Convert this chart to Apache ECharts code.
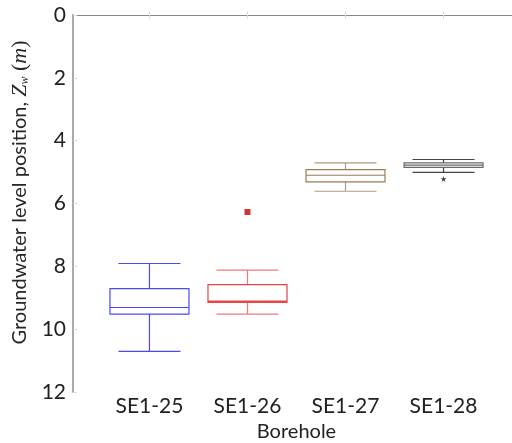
<!DOCTYPE html>
<html>
<head>
<meta charset="utf-8">
<script src="https://cdn.jsdelivr.net/npm/echarts@6/dist/echarts.min.js"></script>
<style>
  html, body { margin: 0; padding: 0; background: #fff; }
  #main { width: 512px; height: 443px; }
</style>
</head>
<body>
<div id="main"></div>
<script>
// boreholes and their depth-to-water statistics (m)
var boreholes = ['SE1-25', 'SE1-26', 'SE1-27', 'SE1-28'];
var whiskerLow = [10.71, 9.52, 5.61, 5.01];   // lower whisker (deeper)
var q3 = [9.52, 9.15, 5.31, 4.85];
var median = [9.31, 9.11, 5.10, 4.78];
var q1 = [8.71, 8.58, 4.92, 4.71];
var whiskerHigh = [7.91, 8.12, 4.71, 4.60];   // upper whisker (shallower)
var outliers26 = [[2, 6.27]];
var outliers28 = [[4, 5.22]];
var yTicks = [0, 2, 4, 6, 8, 10, 12];

var boxColors = ['#4a4af2', '#e64646', '#9c7b5c', '#6a6a6a'];
var capColors = ['#4a4af2', '#ee7878', '#b09a85', '#444444'];

var whiskerData = [], boxData = [];
boreholes.forEach(function (b, i) {
  var x = i + 1;
  whiskerData.push({
    value: [x, whiskerHigh[i], median[i], median[i], median[i], whiskerLow[i]],
    itemStyle: { borderColor: capColors[i] }
  });
  boxData.push({
    value: [x, q1[i], q1[i], median[i], q3[i], q3[i]],
    itemStyle: { borderColor: boxColors[i], color: '#fff' }
  });
});

var chart = echarts.init(document.getElementById('main'));
var tickValues = boreholes.map(function (b, i) { return i + 1; });

option = {
  animation: false,
  grid: { left: 73, right: -8, top: 15, bottom: 51, outerBoundsMode: 'none' },
  xAxis: [
    {
      type: 'value', position: 'bottom', min: 0.22, max: 4.78,
      splitLine: { show: false },
      axisLine: { show: true, lineStyle: { color: '#888', width: 1 } },
      axisTick: { show: true, inside: true, length: 4, customValues: tickValues, lineStyle: { color: '#ddd' } },
      axisLabel: {
        customValues: tickValues, margin: 4, fontSize: 21, color: '#222', fontFamily: 'Lato',
        formatter: function (v) { return boreholes[Math.round(v) - 1] || ''; }
      },
      name: 'Borehole', nameLocation: 'middle', nameGap: 27,
      nameTextStyle: { fontSize: 20, color: '#222', fontFamily: 'Lato' }
    },
    {
      type: 'value', position: 'top', min: 0.22, max: 4.78,
      splitLine: { show: false },
      axisLine: { show: true, lineStyle: { color: '#888', width: 1 } },
      axisTick: { show: true, inside: true, length: 4, customValues: tickValues, lineStyle: { color: '#ddd' } },
      axisLabel: { show: false }
    }
  ],
  yAxis: {
    type: 'value', inverse: true, min: 0, max: 12, interval: 2,
    splitLine: { show: false },
    axisLine: { show: true, lineStyle: { color: '#aaa', width: 2 } },
    axisTick: { show: true, inside: true, length: 4, lineStyle: { color: '#ddd' } },
    axisLabel: {
      margin: 7, fontSize: 21, color: '#222', fontFamily: 'Lato',
      formatter: function (v) { return yTicks.indexOf(v) >= 0 ? String(v) : ''; }
    },
    name: '{a|Groundwater level position, }{z|Z}{s|w}{p| (}{z|m}{p|)}',
    nameLocation: 'middle', nameGap: 40,
    nameTextStyle: {
      fontSize: 20, color: '#262626', fontFamily: 'Lato',
      padding: [0, 0, 0, 22],
      rich: {
        a: { fontSize: 20, fontFamily: 'Lato', color: '#262626' },
        z: { fontSize: 22, fontFamily: 'Liberation Serif', fontStyle: 'italic', color: '#262626' },
        p: { fontSize: 22, fontFamily: 'Liberation Serif', color: '#262626' },
        s: { fontSize: 12, fontFamily: 'Liberation Serif', fontStyle: 'italic', color: '#262626', verticalAlign: 'bottom', lineHeight: 12 }
      }
    }
  },
  series: [
    {
      name: 'whiskers', type: 'boxplot', xAxisIndex: 1, z: 2,
      boxWidth: [62, 62], silent: true,
      itemStyle: { color: 'none', borderWidth: 1.2 },
      emphasis: { disabled: true },
      data: whiskerData
    },
    {
      name: 'boxes', type: 'boxplot', xAxisIndex: 0, z: 3,
      boxWidth: [79, 79], silent: true,
      itemStyle: { color: '#fff', borderWidth: 1.2 },
      emphasis: { disabled: true },
      data: boxData
    },
    {
      name: 'outlier SE1-26', type: 'scatter', xAxisIndex: 0, z: 4,
      symbol: 'rect', symbolSize: 6, silent: true,
      itemStyle: { color: '#cc0000' },
      data: outliers26
    },
    {
      name: 'outlier SE1-28', type: 'scatter', xAxisIndex: 0, z: 4,
      symbol: 'path://M50,0 L61,35 L98,35 L68,57 L79,91 L50,70 L21,91 L32,57 L2,35 L39,35 Z',
      symbolSize: 6, silent: true,
      itemStyle: { color: '#111' },
      data: outliers28
    }
  ]
};
chart.setOption(option);
</script>
</body>
</html>
